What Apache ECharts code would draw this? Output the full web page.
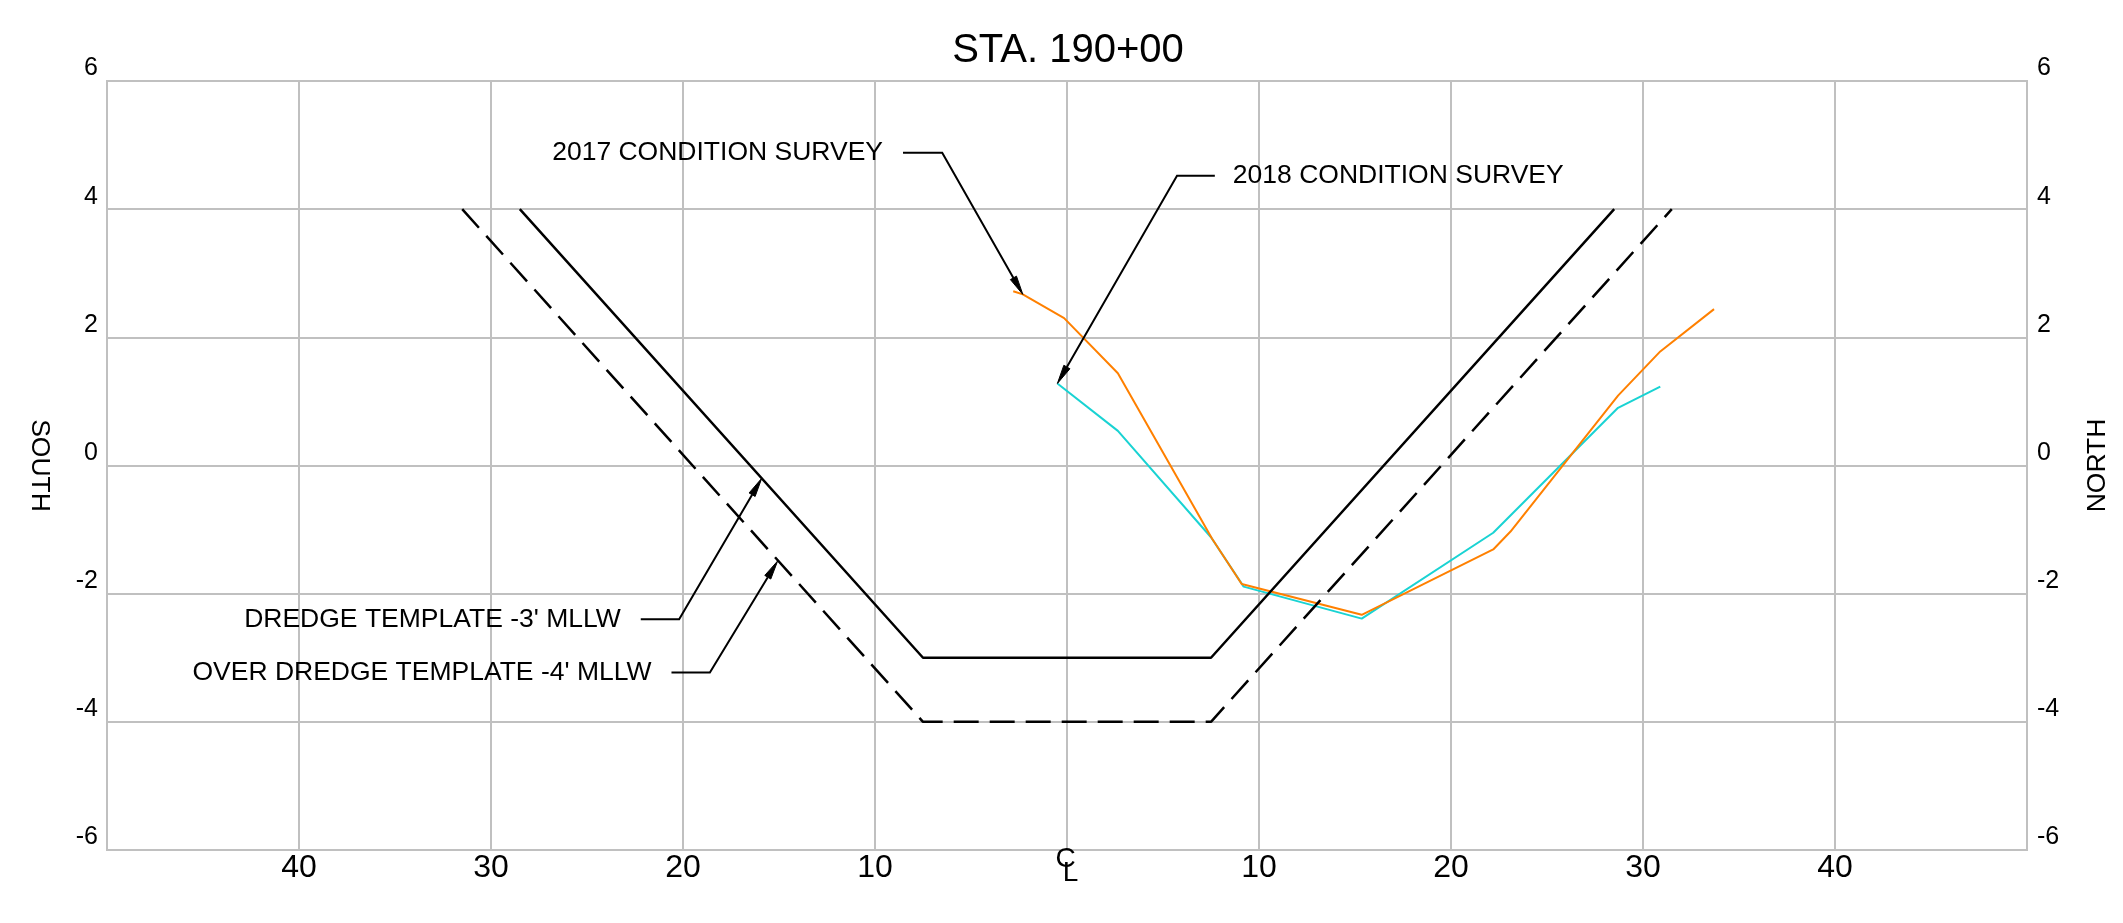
<!DOCTYPE html>
<html>
<head>
<meta charset="utf-8">
<script src="https://cdn.jsdelivr.net/npm/echarts@6/dist/echarts.min.js"></script>
<style>
  html, body { margin: 0; padding: 0; background: #fff; }
  #chart { width: 2123px; height: 923px; }
</style>
</head>
<body>
<div id="chart"></div>
<script>
// offsets from the channel centreline (ft) and elevations (ft MLLW)
const survey2017 = [
  [-2.8, 2.72], [-2.3, 2.67], [-0.15, 2.30], [2.65, 1.44], [7.55, -1.14],
  [9.1, -1.85], [15.35, -2.33], [22.2, -1.31], [23.1, -1.03], [28.7, 1.09],
  [30.9, 1.78], [33.7, 2.44]
];
const survey2018 = [
  [-0.5, 1.28], [2.65, 0.54], [7.5, -1.12], [9.2, -1.89], [15.35, -2.39],
  [22.2, -1.05], [28.7, 0.90], [30.9, 1.23]
];
const dredgeTemplate = [[-28.5, 4], [-7.5, -3], [7.5, -3], [28.5, 4]];
const overDredgeTemplate = [[-31.5, 4], [-7.5, -4], [7.5, -4], [31.5, 4]];

// callouts: text, leader start, bend, arrow tip
const calloutText = ["2017 CONDITION SURVEY", "2018 CONDITION SURVEY",
  "DREDGE TEMPLATE -3' MLLW", "OVER DREDGE TEMPLATE -4' MLLW"];
const calloutStart = [[-8.54, 4.88], [7.7, 4.52], [-22.2, -2.40], [-20.6, -3.23]];
const calloutBend = [[-6.5, 4.88], [5.73, 4.52], [-20.2, -2.40], [-18.6, -3.23]];
const calloutTip = [[-2.3, 2.67], [-0.5, 1.28], [-15.9, -0.2], [-15.07, -1.49]];
const calloutSide = ["left", "right", "left", "left"];

const FONT = "Liberation Sans, Arial, sans-serif";
const GRID_COLOR = "#c0c0c0";

const chart = echarts.init(document.getElementById("chart"));

function renderCallout(params, api) {
  const i = api.value(6);
  const s = api.coord([api.value(0), api.value(1)]);
  const b = api.coord([api.value(2), api.value(3)]);
  const t = api.coord([api.value(4), api.value(5)]);
  const dx = t[0] - b[0], dy = t[1] - b[1];
  const len = Math.hypot(dx, dy);
  const ux = dx / len, uy = dy / len;
  const headLen = 19, headHalf = 3.5;
  const base = [t[0] - ux * headLen, t[1] - uy * headLen];
  const left = calloutSide[i] === "left";
  return {
    type: "group",
    children: [
      {
        type: "polyline",
        shape: { points: [s, b, base] },
        style: { stroke: "#000", lineWidth: 2, fill: null }
      },
      {
        type: "polygon",
        shape: { points: [t, [base[0] - uy * headHalf, base[1] + ux * headHalf],
                              [base[0] + uy * headHalf, base[1] - ux * headHalf]] },
        style: { fill: "#000", stroke: "#000", lineWidth: 1 }
      },
      {
        type: "text",
        x: left ? s[0] - 20 : s[0] + 18,
        y: s[1],
        style: {
          text: calloutText[i],
          align: left ? "right" : "left",
          verticalAlign: "middle",
          fontFamily: FONT,
          fontSize: 26.5,
          fill: "#000"
        }
      }
    ]
  };
}

const option = {
  animation: false,
  backgroundColor: "#fff",
  title: {
    text: "STA. 190+00",
    left: 1063,
    textAlign: "center",
    top: 26,
    textStyle: { fontFamily: FONT, fontSize: 40, fontWeight: "normal", color: "#000" }
  },
  grid: {
    left: 107, right: 96, top: 81, bottom: 73,
    show: true, borderColor: GRID_COLOR, borderWidth: 2
  },
  xAxis: {
    type: "value",
    min: -50, max: 50, interval: 10,
    axisLine: { show: false },
    axisTick: { show: false },
    splitLine: { lineStyle: { color: GRID_COLOR, width: 2 } },
    axisLabel: {
      showMinLabel: false, showMaxLabel: false,
      margin: 2,
      color: "#000", fontFamily: FONT, fontSize: 32,
      formatter: v => v === 0 ? "{c|C}\n{l|L}" : String(Math.abs(v)),
      rich: {
        c: { fontFamily: FONT, fontSize: 28, lineHeight: 14, color: "#000", padding: [0, 3, 0, 0] },
        l: { fontFamily: FONT, fontSize: 28, lineHeight: 14, color: "#000", padding: [0, 0, 0, 7] }
      }
    }
  },
  yAxis: [
    {
      type: "value", min: -6, max: 6, interval: 2, position: "left",
      name: "SOUTH", nameLocation: "middle", nameRotate: -90, nameGap: 54,
      nameTextStyle: { fontFamily: FONT, fontSize: 26.5, color: "#000" },
      axisLine: { show: false }, axisTick: { show: false },
      axisLabel: { margin: 9, verticalAlign: "bottom", color: "#000", fontFamily: FONT, fontSize: 25 },
      splitLine: { lineStyle: { color: GRID_COLOR, width: 2 } }
    },
    {
      type: "value", min: -6, max: 6, interval: 2, position: "right",
      name: "NORTH", nameLocation: "middle", nameRotate: 90, nameGap: 57,
      nameTextStyle: { fontFamily: FONT, fontSize: 26.5, color: "#000" },
      axisLine: { show: false }, axisTick: { show: false },
      axisLabel: { margin: 10, verticalAlign: "bottom", color: "#000", fontFamily: FONT, fontSize: 25 },
      splitLine: { show: false }
    }
  ],
  series: [
    {
      name: "2018 CONDITION SURVEY", type: "line", data: survey2018,
      symbol: "none", lineStyle: { color: "#19d3d3", width: 2 }, z: 2
    },
    {
      name: "2017 CONDITION SURVEY", type: "line", data: survey2017,
      symbol: "none", lineStyle: { color: "#ff8000", width: 2 }, z: 3
    },
    {
      name: "OVER DREDGE TEMPLATE", type: "line", data: overDredgeTemplate,
      symbol: "none", lineStyle: { color: "#000", width: 2.5, type: [25, 11] }, z: 4
    },
    {
      name: "DREDGE TEMPLATE", type: "line", data: dredgeTemplate,
      symbol: "none", lineStyle: { color: "#000", width: 2.5 }, z: 4
    },
    {
      name: "callouts", type: "custom", z: 5, clip: false,
      renderItem: renderCallout,
      data: calloutText.map((t, i) => [...calloutStart[i], ...calloutBend[i], ...calloutTip[i], i])
    }
  ]
};

chart.setOption(option);
</script>
</body>
</html>
